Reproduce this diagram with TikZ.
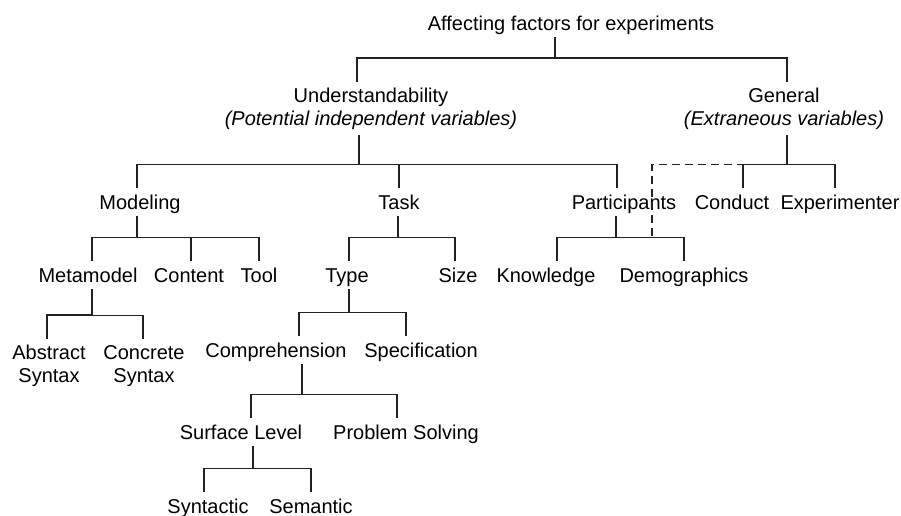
\documentclass[tikz,border=0pt]{standalone}
\usepackage{fontspec}
\setmainfont{Liberation Sans}
\usepackage{tikz}
\usetikzlibrary{positioning, calc}
\definecolor{ink}{HTML}{222222}

\begin{document}
\begin{tikzpicture}[
  x=0.5pt, y=-0.5pt,
  font=\fontsize{10}{11.5}\selectfont,
  txt/.style={anchor=base, inner sep=0pt, outer ysep=3pt, text=black},
  lbl/.style={txt, text height=7.5pt, text depth=0.5pt},
  ml/.style={txt, align=center},
  link/.style={draw=ink, line width=0.65pt},
  extra/.style={link, dash pattern=on 4pt off 2.5pt}
]
  \useasboundingbox (0,0) rectangle (901,515);

  % Root
  \node[lbl] (top) at (571,30) {Affecting factors for experiments};

  % Level 1
  \node[ml] (und) at (371,125) {Understandability\\\itshape(Potential independent variables)};
  \node[ml] (gen) at (784,125) {General\\\itshape(Extraneous variables)};

  % Level 2
  \node[lbl] (model)   at (140,209) {Modeling};
  \node[lbl] (task)    at (399,209) {Task};
  \node[lbl] (part)    at (624,209) {Participants};
  \node[lbl] (conduct) at (732,209) {Conduct};
  \node[lbl] (exper)   at (840,209) {Experimenter};

  % Level 3
  \node[lbl] (meta)    at (88,282)  {Metamodel};
  \node[lbl] (content) at (189,282) {Content};
  \node[lbl] (tool)    at (259,282) {Tool};
  \node[lbl] (type)    at (347,282) {Type};
  \node[lbl] (size)    at (458,282) {Size};
  \node[lbl] (know)    at (546,282) {Knowledge};
  \node[lbl] (demo)    at (684,282) {Demographics};

  % Level 4
  \node[ml]  (abs)  at (49,382)  {Abstract\\Syntax};
  \node[ml]  (conc) at (144,382) {Concrete\\Syntax};
  \node[lbl] (comp) at (276,357) {Comprehension};
  \node[lbl] (spec) at (421,357) {Specification};

  % Level 5 and 6
  \node[lbl] (surf) at (241,439) {Surface Level};
  \node[lbl] (prob) at (406,439) {Problem Solving};
  \node[lbl] (syn)  at (208,513) {Syntactic};
  \node[lbl] (sem)  at (311,513) {Semantic};

  % Tree links (parent/shift/child/shift)
  \foreach \p/\ps/\c/\cs in {top/-8pt/und/-7pt, top/-8pt/gen/1.5pt,
      und/-6pt/model/-1.5pt, und/-6pt/task/0pt, und/-6pt/part/-3.5pt,
      gen/1.5pt/conduct/5.5pt, gen/1.5pt/exper/-2.5pt,
      model/-1.5pt/meta/2pt, model/-1.5pt/content/1pt, model/-1.5pt/tool/0pt,
      task/-0.5pt/type/1pt, task/-0.5pt/size/-1.5pt,
      part/-4pt/know/5.5pt, part/-4pt/demo/0pt,
      meta/2pt/abs/-1pt, meta/2pt/conc/-0.5pt,
      type/1pt/comp/11.5pt, type/1pt/spec/-7.5pt,
      comp/13pt/surf/5pt, comp/13pt/prob/-4.5pt,
      surf/6pt/syn/-2pt, surf/6pt/sem/0pt}
    \draw[link] ([xshift=\ps]\p.south) |- ([xshift=\cs, yshift=11.75pt]\c.north)
      -- ([xshift=\cs]\c.north);

  % Participants also count as extraneous
  \coordinate (pdash) at (652,236);
  \draw[extra] (pdash) |- ([xshift=5.5pt, yshift=11.75pt]conduct.north);
\end{tikzpicture}
\end{document}
